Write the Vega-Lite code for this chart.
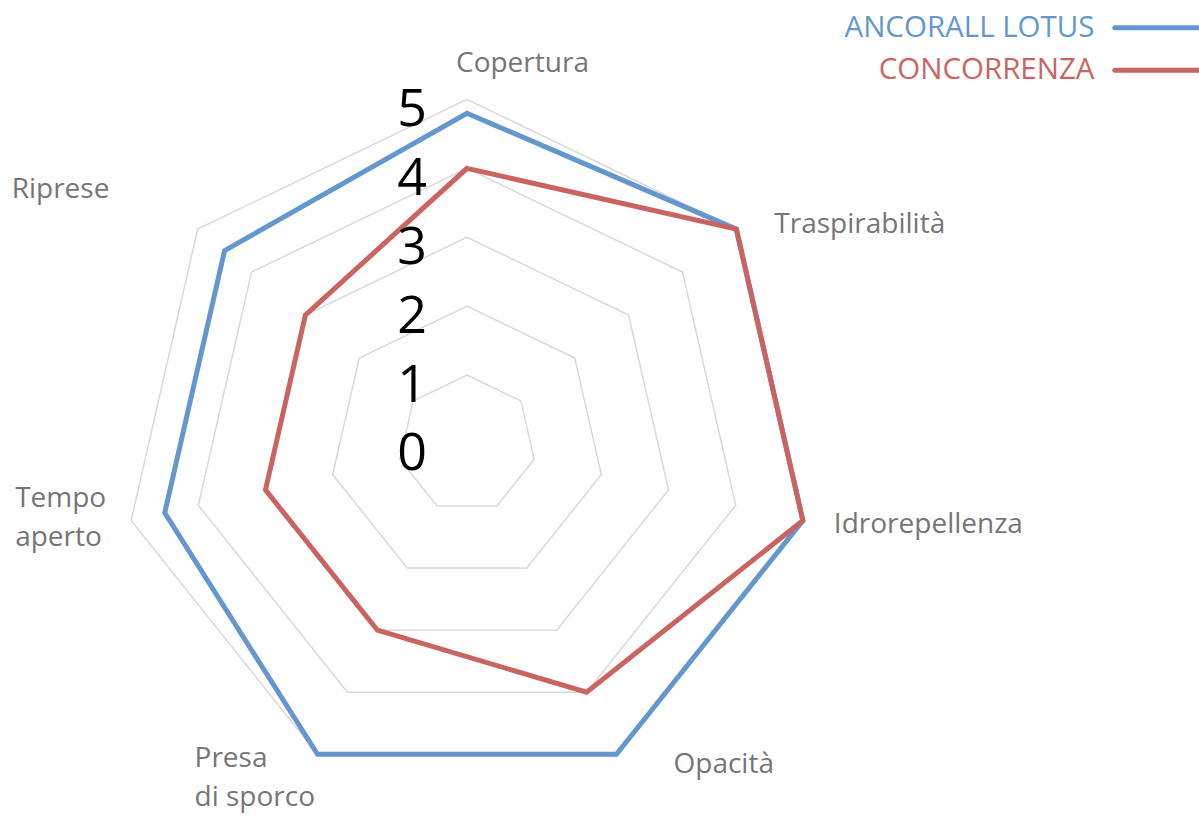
{
  "$schema": "https://vega.github.io/schema/vega-lite/v6.json",
  "width": 1199,
  "height": 819,
  "autosize": {"type": "none"},
  "padding": 0,
  "background": "white",
  "config": {"view": {"stroke": null}},
  "datasets": {
    "scores": [
      {"series": "ANCORALL LOTUS", "idx": 0, "axis": "Copertura", "value": 4.8},
      {"series": "ANCORALL LOTUS", "idx": 1, "axis": "Traspirabilità", "value": 5},
      {"series": "ANCORALL LOTUS", "idx": 2, "axis": "Idrorepellenza", "value": 5},
      {"series": "ANCORALL LOTUS", "idx": 3, "axis": "Opacità", "value": 5},
      {"series": "ANCORALL LOTUS", "idx": 4, "axis": "Presa di sporco", "value": 5},
      {"series": "ANCORALL LOTUS", "idx": 5, "axis": "Tempo aperto", "value": 4.5},
      {"series": "ANCORALL LOTUS", "idx": 6, "axis": "Riprese", "value": 4.5},
      {"series": "CONCORRENZA", "idx": 0, "axis": "Copertura", "value": 4},
      {"series": "CONCORRENZA", "idx": 1, "axis": "Traspirabilità", "value": 5},
      {"series": "CONCORRENZA", "idx": 2, "axis": "Idrorepellenza", "value": 5},
      {"series": "CONCORRENZA", "idx": 3, "axis": "Opacità", "value": 4},
      {"series": "CONCORRENZA", "idx": 4, "axis": "Presa di sporco", "value": 3},
      {"series": "CONCORRENZA", "idx": 5, "axis": "Tempo aperto", "value": 3},
      {"series": "CONCORRENZA", "idx": 6, "axis": "Riprese", "value": 3}
    ],
    "axes": [
      {"idx": 0, "label": "Copertura"},
      {"idx": 1, "label": "Traspirabilità"},
      {"idx": 2, "label": "Idrorepellenza"},
      {"idx": 3, "label": "Opacità"},
      {"idx": 4, "label": "Presa\ndi sporco"},
      {"idx": 5, "label": "Tempo\naperto"},
      {"idx": 6, "label": "Riprese"}
    ],
    "levels": [
      {"level": 0, "idx": [0, 1, 2, 3, 4, 5, 6]},
      {"level": 1, "idx": [0, 1, 2, 3, 4, 5, 6]},
      {"level": 2, "idx": [0, 1, 2, 3, 4, 5, 6]},
      {"level": 3, "idx": [0, 1, 2, 3, 4, 5, 6]},
      {"level": 4, "idx": [0, 1, 2, 3, 4, 5, 6]},
      {"level": 5, "idx": [0, 1, 2, 3, 4, 5, 6]}
    ]
  },
  "encoding": {
    "x": {"field": "px", "type": "quantitative", "scale": {"domain": [-6.778, 10.624], "nice": false, "zero": false}, "axis": null},
    "y": {"field": "py", "type": "quantitative", "scale": {"domain": [-5.444, 6.443], "nice": false, "zero": false}, "axis": null}
  },
  "layer": [
    {
      "data": {"name": "levels"},
      "transform": [
        {"filter": "datum.level > 0"},
        {"flatten": ["idx"]},
        {"calculate": "datum.level * sin(datum.idx * 2 * PI / 7)", "as": "px"},
        {"calculate": "datum.level * cos(datum.idx * 2 * PI / 7)", "as": "py"}
      ],
      "mark": {"type": "line", "interpolate": "linear-closed", "stroke": "#d9d9d9", "strokeWidth": 1.5},
      "encoding": {
        "detail": {"field": "level", "type": "nominal"},
        "order": {"field": "idx", "type": "quantitative"}
      }
    },
    {
      "data": {"name": "scores"},
      "transform": [
        {"calculate": "datum.value * sin(datum.idx * 2 * PI / 7)", "as": "px"},
        {"calculate": "datum.value * cos(datum.idx * 2 * PI / 7)", "as": "py"}
      ],
      "mark": {"type": "line", "interpolate": "linear-closed", "strokeWidth": 5, "strokeJoin": "miter"},
      "encoding": {
        "order": {"field": "idx", "type": "quantitative"},
        "color": {
          "field": "series",
          "type": "nominal",
          "scale": {"domain": ["ANCORALL LOTUS", "CONCORRENZA"], "range": ["#6497CF", "#CB6461"]},
          "legend": {
            "title": null,
            "orient": "none",
            "legendX": 1143,
            "legendY": 13,
            "symbolType": "M-4,0H4",
            "symbolSize": 462,
            "symbolStrokeWidth": 5,
            "rowPadding": 11.5,
            "labelFont": "Open Sans",
            "labelFontSize": 29.5,
            "labelAlign": "right",
            "labelOffset": -78,
            "labelLimit": 0,
            "encode": {
              "labels": {"update": {"fill": {"signal": "datum.value === 'ANCORALL LOTUS' ? '#6497CF' : '#CB6461'"}}},
              "symbols": {"update": {"strokeCap": {"value": "round"}}}
            }
          }
        }
      }
    },
    {
      "data": {"name": "levels"},
      "transform": [
        {"calculate": "0", "as": "px"},
        {"calculate": "datum.level", "as": "py"}
      ],
      "mark": {"type": "text", "font": "Open Sans", "fontSize": 52, "color": "#000000", "align": "center", "baseline": "alphabetic", "dx": -55, "dy": 26.5},
      "encoding": {"text": {"field": "level", "type": "nominal"}}
    },
    {
      "data": {"name": "axes"},
      "transform": [
        {"filter": "datum.idx == 0"},
        {"calculate": "5 * sin(datum.idx * 2 * PI / 7)", "as": "px"},
        {"calculate": "5 * cos(datum.idx * 2 * PI / 7)", "as": "py"}
      ],
      "mark": {"type": "text", "font": "Open Sans", "fontSize": 28, "color": "#767676", "align": "left", "baseline": "alphabetic", "dx": -11, "dy": -27},
      "encoding": {"text": {"field": "label", "type": "nominal"}}
    },
    {
      "data": {"name": "axes"},
      "transform": [
        {"filter": "datum.idx == 1"},
        {"calculate": "5 * sin(datum.idx * 2 * PI / 7)", "as": "px"},
        {"calculate": "5 * cos(datum.idx * 2 * PI / 7)", "as": "py"}
      ],
      "mark": {"type": "text", "font": "Open Sans", "fontSize": 28, "color": "#767676", "align": "left", "baseline": "alphabetic", "dx": 38, "dy": 4},
      "encoding": {"text": {"field": "label", "type": "nominal"}}
    },
    {
      "data": {"name": "axes"},
      "transform": [
        {"filter": "datum.idx == 2"},
        {"calculate": "5 * sin(datum.idx * 2 * PI / 7)", "as": "px"},
        {"calculate": "5 * cos(datum.idx * 2 * PI / 7)", "as": "py"}
      ],
      "mark": {"type": "text", "font": "Open Sans", "fontSize": 28, "color": "#767676", "align": "left", "baseline": "alphabetic", "dx": 31, "dy": 12.5},
      "encoding": {"text": {"field": "label", "type": "nominal"}}
    },
    {
      "data": {"name": "axes"},
      "transform": [
        {"filter": "datum.idx == 3"},
        {"calculate": "5 * sin(datum.idx * 2 * PI / 7)", "as": "px"},
        {"calculate": "5 * cos(datum.idx * 2 * PI / 7)", "as": "py"}
      ],
      "mark": {"type": "text", "font": "Open Sans", "fontSize": 28, "color": "#767676", "align": "left", "baseline": "alphabetic", "dx": 57, "dy": 19},
      "encoding": {"text": {"field": "label", "type": "nominal"}}
    },
    {
      "data": {"name": "axes"},
      "transform": [
        {"filter": "datum.idx == 4"},
        {"calculate": "5 * sin(datum.idx * 2 * PI / 7)", "as": "px"},
        {"calculate": "5 * cos(datum.idx * 2 * PI / 7)", "as": "py"}
      ],
      "mark": {"type": "text", "font": "Open Sans", "fontSize": 28, "color": "#767676", "align": "left", "baseline": "alphabetic", "lineBreak": "\n", "lineHeight": 39, "dx": -123, "dy": 13},
      "encoding": {"text": {"field": "label", "type": "nominal"}}
    },
    {
      "data": {"name": "axes"},
      "transform": [
        {"filter": "datum.idx == 5"},
        {"calculate": "5 * sin(datum.idx * 2 * PI / 7)", "as": "px"},
        {"calculate": "5 * cos(datum.idx * 2 * PI / 7)", "as": "py"}
      ],
      "mark": {"type": "text", "font": "Open Sans", "fontSize": 28, "color": "#767676", "align": "left", "baseline": "alphabetic", "lineBreak": "\n", "lineHeight": 39, "dx": -116, "dy": -13.5},
      "encoding": {"text": {"field": "label", "type": "nominal"}}
    },
    {
      "data": {"name": "axes"},
      "transform": [
        {"filter": "datum.idx == 6"},
        {"calculate": "5 * sin(datum.idx * 2 * PI / 7)", "as": "px"},
        {"calculate": "5 * cos(datum.idx * 2 * PI / 7)", "as": "py"}
      ],
      "mark": {"type": "text", "font": "Open Sans", "fontSize": 28, "color": "#767676", "align": "left", "baseline": "alphabetic", "dx": -186, "dy": -31},
      "encoding": {"text": {"field": "label", "type": "nominal"}}
    }
  ]
}
